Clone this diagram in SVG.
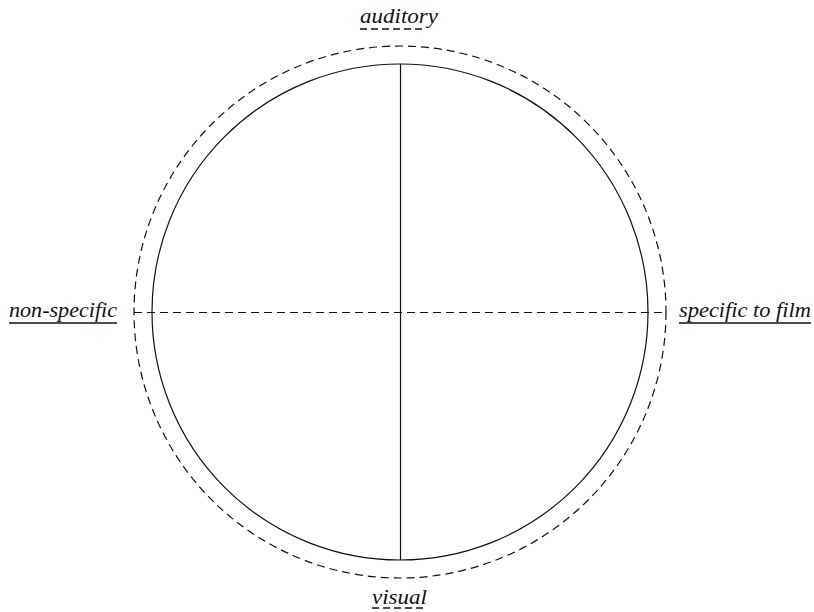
<svg xmlns="http://www.w3.org/2000/svg" width="814" height="612" viewBox="0 0 814 612">
<style>
.lbl{font-family:'Liberation Serif',serif;font-style:italic;font-size:22px;fill:#111}
.ul{stroke:#111;stroke-width:1.3;fill:none}
.uld{stroke:#111;stroke-width:1.3;fill:none;stroke-dasharray:7 4}
.solid{stroke:#111;stroke-width:1.2;fill:none}
.dash{stroke:#111;stroke-width:1.2;fill:none;stroke-dasharray:8 5}
</style>
<rect width="814" height="612" fill="#fff"/>
<g id="outer-circle"><circle cx="400" cy="312" r="266" class="dash"/></g>
<g id="inner-circle"><circle cx="400" cy="312" r="248" class="solid"/></g>
<g id="connectors">
<line x1="400.5" y1="64" x2="400.5" y2="560" class="solid"/>
<line x1="134" y1="312.5" x2="666" y2="312.5" class="dash"/>
</g>
<g id="auditory">
<text x="360" y="23" class="lbl" textLength="78" lengthAdjust="spacingAndGlyphs">auditory</text>
<line x1="360" y1="29" x2="424" y2="29" class="uld"/>
</g>
<g id="visual">
<text x="372" y="604" class="lbl" textLength="55" lengthAdjust="spacingAndGlyphs">visual</text>
<line x1="372" y1="608" x2="427" y2="608" class="uld"/>
</g>
<g id="non-specific">
<text x="9" y="317" class="lbl" textLength="108" lengthAdjust="spacingAndGlyphs">non-specific</text>
<line x1="9" y1="323" x2="117" y2="323" class="ul"/>
</g>
<g id="specific-to-film">
<text x="679" y="317" class="lbl" textLength="132" lengthAdjust="spacingAndGlyphs">specific to film</text>
<line x1="679" y1="323" x2="811" y2="323" class="ul"/>
</g>
</svg>
